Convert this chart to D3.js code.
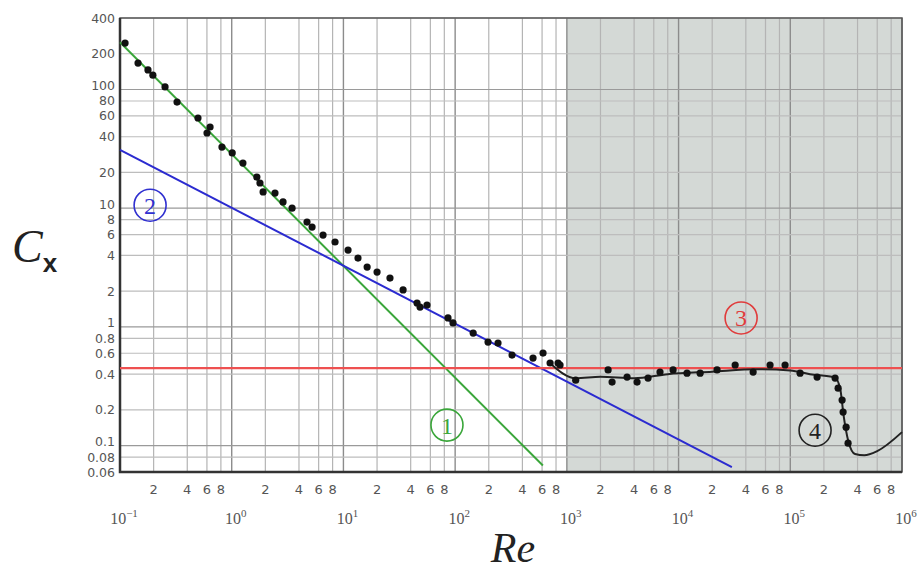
<!DOCTYPE html>
<html>
<head>
<meta charset="utf-8">
<script src="https://cdn.jsdelivr.net/npm/d3@7"></script>
<style>
  body { margin: 0; background: #fff; }
  svg { display: block; }
</style>
</head>
<body>
<div id="chart"></div>
<script>
// Drag coefficient of a sphere vs Reynolds number (log-log)
const measuredRe = [0.111, 0.145, 0.178, 0.197, 0.253, 0.324, 0.499, 0.640, 0.601, 0.818, 1.01, 1.26, 1.68, 1.79,
    1.91, 2.44, 2.88, 3.47, 4.72, 5.24, 6.57, 8.41, 11.0, 13.5, 16.3, 20.0, 26.1, 34.2, 45.6, 48.5, 56.0,
    86.3, 95.7, 145, 197, 242, 323, 498, 612, 708, 834,
    869, 1200, 2340, 2540, 3460, 4250, 5330, 6820, 8930, 11900, 15600, 22100, 32100, 46500, 65900, 89800,
    122400, 173800, 251800, 268000, 291000, 297000, 316000, 329000];
const measuredCx = [246, 167, 146, 132, 105, 78.3, 57.5, 48.3, 43.0, 32.7, 29.2, 24.0, 18.3, 16.3,
    13.7, 13.4, 11.3, 10.0, 7.64, 6.93, 5.94, 5.19, 4.44, 3.80, 3.19, 2.90, 2.58, 2.05, 1.59, 1.47, 1.53,
    1.19, 1.08, 0.887, 0.745, 0.731, 0.579, 0.547, 0.602, 0.497, 0.497,
    0.478, 0.356, 0.434, 0.343, 0.378, 0.343, 0.371, 0.417, 0.434, 0.408, 0.408, 0.434, 0.478, 0.417, 0.478, 0.478,
    0.408, 0.378, 0.371, 0.305, 0.242, 0.192, 0.143, 0.105];

// experimental curve (4)
const curveRe = [700, 1200, 2000, 4000, 8000, 20000, 50000, 100000, 150000, 250000, 280000, 300000, 330000,
    380000, 460000, 600000, 1000000];
const curveCx = [0.50, 0.37, 0.38, 0.37, 0.40, 0.42, 0.44, 0.43, 0.40, 0.375, 0.30, 0.18, 0.11,
    0.085, 0.083, 0.09, 0.13];

// model lines: (1) Stokes, (2) intermediate, (3) Newton
const stokesRe = [0.1, 610];
const stokesCx = [250, 0.068];
const interRe = [0.1, 30000];
const interCx = [31, 0.066];
const newtonRe = [0.1, 1e6];
const newtonCx = [0.45, 0.45];

// circled annotations
const markNames = ["1", "2", "3", "4"];
const markRe = [84.5, 0.186, 36300, 166700];
const markCx = [0.149, 10.6, 1.19, 0.135];
const markColors = ["#3aa63a", "#3030d0", "#e03c3c", "#222"];

// axis ticks
const yTicks = [400, 200, 100, 80, 60, 40, 20, 10, 8, 6, 4, 2, 1, 0.8, 0.6, 0.4, 0.2, 0.1, 0.08, 0.06];
const yLabels = ["400", "200", "100", "80", "60", "40", "20", "10", "8", "6", "4", "2", "1", "0.8", "0.6", "0.4",
    "0.2", "0.1", "0.08", "0.06"];
const decades = [-1, 0, 1, 2, 3, 4, 5, 6];
const minorMult = [2, 4, 6, 8];

const width = 918;
const height = 573;
const margin = { left: 120, right: 16, top: 18, bottom: 101 };

const svg = d3.select("#chart")
    .append("svg")
    .attr("width", width)
    .attr("height", height);

const x = d3.scaleLog().domain([0.1, 1e6]).range([margin.left, width - margin.right]);
const y = d3.scaleLog().domain([0.06, 400]).range([height - margin.bottom, margin.top]);

const x0 = x.range()[0], x1 = x.range()[1];
const y0 = y.range()[0], y1 = y.range()[1];
const isDecade = d => Math.abs(Math.log10(d) - Math.round(Math.log10(d))) < 1e-9;

// shaded region Re > 1000
svg.append("rect")
    .attr("x", x(1e3))
    .attr("y", y1)
    .attr("width", x(1e6) - x(1e3))
    .attr("height", y0 - y1)
    .attr("fill", "#d4d9d6");

// grid
const xMinor = [];
decades.slice(0, -1).forEach(p => minorMult.forEach(m => xMinor.push(m * Math.pow(10, p))));
const xMajor = decades.map(p => Math.pow(10, p));

svg.append("g").selectAll("line")
    .data(xMinor)
    .enter()
    .append("line")
    .attr("x1", d => x(d)).attr("x2", d => x(d))
    .attr("y1", y1).attr("y2", y0)
    .attr("stroke", "#b4b4b4")
    .attr("stroke-width", 1.2);

svg.append("g").selectAll("line")
    .data(xMajor)
    .enter()
    .append("line")
    .attr("x1", d => x(d)).attr("x2", d => x(d))
    .attr("y1", y1).attr("y2", y0)
    .attr("stroke", "#8c8c8c")
    .attr("stroke-width", 1.4);

svg.append("g").selectAll("line")
    .data(yTicks)
    .enter()
    .append("line")
    .attr("x1", x0).attr("x2", x1)
    .attr("y1", d => y(d)).attr("y2", d => y(d))
    .attr("stroke", d => isDecade(d) ? "#9a9a9a" : "#bdbdbd")
    .attr("stroke-width", 1.2);

// frame
svg.append("rect")
    .attr("x", x0).attr("y", y1)
    .attr("width", x1 - x0).attr("height", y0 - y1)
    .attr("fill", "none")
    .attr("stroke", "#555")
    .attr("stroke-width", 1.5);
svg.append("path")
    .attr("d", `M${x0},${y1}V${y0}H${x1}`)
    .attr("fill", "none")
    .attr("stroke", "#333")
    .attr("stroke-width", 2.5);

// y tick labels (decade labels sit a little higher, as in the original)
svg.append("g").selectAll("text")
    .data(yTicks)
    .enter()
    .append("text")
    .attr("x", x0 - 5)
    .attr("y", d => y(d) - (isDecade(d) && d < 400 ? 4 : 0))
    .attr("dy", "0.36em")
    .attr("text-anchor", "end")
    .attr("font-family", "DejaVu Sans, sans-serif")
    .attr("font-size", 12.5)
    .attr("fill", "#555")
    .text((d, i) => yLabels[i]);

// x minor tick labels
svg.append("g").selectAll("text")
    .data(xMinor)
    .enter()
    .append("text")
    .attr("x", d => x(d))
    .attr("y", y0 + 22)
    .attr("text-anchor", "middle")
    .attr("font-family", "DejaVu Sans, sans-serif")
    .attr("font-size", 13)
    .attr("fill", "#555")
    .text(d => Math.round(d / Math.pow(10, Math.floor(Math.log10(d) + 1e-9))));

// x decade labels
const dec = svg.append("g").selectAll("text")
    .data(decades)
    .enter()
    .append("text")
    .attr("x", d => x(Math.pow(10, d)) + 4)
    .attr("y", y0 + 52)
    .attr("text-anchor", "middle")
    .attr("font-family", "Liberation Serif, serif")
    .attr("font-size", 16)
    .attr("fill", "#555");
dec.append("tspan").text("10");
dec.append("tspan")
    .attr("dy", -7)
    .attr("font-size", 11)
    .text(d => d < 0 ? "\u2212" + (-d) : d);

// model lines
const line = d3.line().x(d => x(d[0])).y(d => y(d[1]));

svg.append("path")
    .datum(stokesRe.map((r, i) => [r, stokesCx[i]]))
    .attr("d", line)
    .attr("fill", "none")
    .attr("stroke", "#3aa63a")
    .attr("stroke-width", 2);

svg.append("path")
    .datum(interRe.map((r, i) => [r, interCx[i]]))
    .attr("d", line)
    .attr("fill", "none")
    .attr("stroke", "#2b2bd0")
    .attr("stroke-width", 2);

svg.append("path")
    .datum(newtonRe.map((r, i) => [r, newtonCx[i]]))
    .attr("d", line)
    .attr("fill", "none")
    .attr("stroke", "#ee5050")
    .attr("stroke-width", 2.2);

// experimental curve and points
svg.append("path")
    .datum(curveRe.map((r, i) => [r, curveCx[i]]))
    .attr("d", line.curve(d3.curveMonotoneX))
    .attr("fill", "none")
    .attr("stroke", "#222")
    .attr("stroke-width", 2);

svg.append("g").selectAll("circle")
    .data(measuredRe.map((r, i) => [r, measuredCx[i]]))
    .enter()
    .append("circle")
    .attr("cx", d => x(d[0]))
    .attr("cy", d => y(d[1]))
    .attr("r", 3.6)
    .attr("fill", "#111");

// circled numbers
const marks = svg.append("g").selectAll("g")
    .data(markNames)
    .enter()
    .append("g")
    .attr("transform", (d, i) => `translate(${x(markRe[i])},${y(markCx[i])})`);
marks.append("ellipse")
    .attr("rx", 16).attr("ry", 16)
    .attr("fill", "none")
    .attr("stroke", (d, i) => markColors[i])
    .attr("stroke-width", 1.6);
marks.append("text")
    .attr("text-anchor", "middle")
    .attr("dy", "0.35em")
    .attr("font-family", "Liberation Serif, serif")
    .attr("font-size", 24)
    .attr("fill", (d, i) => markColors[i])
    .text(d => d);

// axis titles
const cx = svg.append("text")
    .attr("x", 12)
    .attr("y", 262)
    .attr("fill", "#222");
cx.append("tspan")
    .attr("font-family", "Liberation Serif, serif")
    .attr("font-style", "italic")
    .attr("font-size", 46)
    .text("C");
cx.append("tspan")
    .attr("font-family", "Liberation Sans, sans-serif")
    .attr("font-weight", "bold")
    .attr("font-size", 26)
    .attr("dy", 10)
    .text("x");

svg.append("text")
    .attr("x", 513)
    .attr("y", 562)
    .attr("text-anchor", "middle")
    .attr("font-family", "Liberation Serif, serif")
    .attr("font-style", "italic")
    .attr("font-size", 42)
    .attr("fill", "#222")
    .text("Re");
</script>
</body>
</html>
